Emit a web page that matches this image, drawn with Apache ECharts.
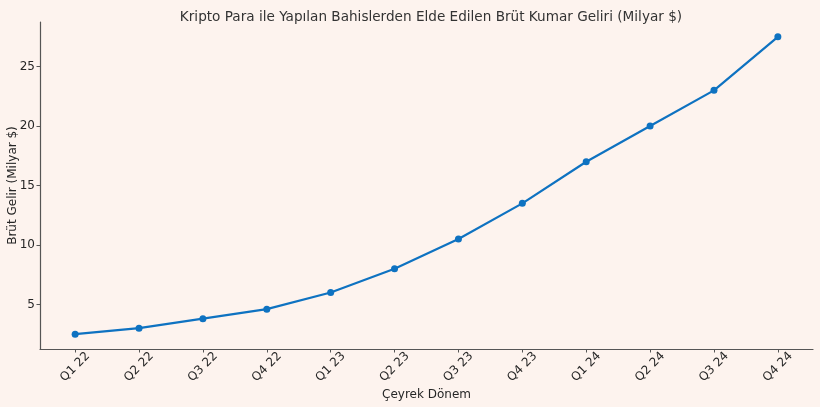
<!DOCTYPE html>
<html><head><meta charset="utf-8">
<script src="https://cdn.jsdelivr.net/npm/echarts@6/dist/echarts.min.js"></script>
<style>html,body{margin:0;padding:0;background:#fdf3ee;}#c{width:820px;height:407px;}</style>
</head><body><div id="c"></div>
<script>
const categories = ["Q1 22","Q2 22","Q3 22","Q4 22","Q1 23","Q2 23","Q3 23","Q4 23","Q1 24","Q2 24","Q3 24","Q4 24"];
const revenue = [2.5, 3.0, 3.8, 4.6, 6.0, 8.0, 10.5, 13.5, 17.0, 20.0, 23.0, 27.5];
const yTicks = [5, 10, 15, 20, 25];
const titleText = "Kripto Para ile Yapılan Bahislerden Elde Edilen Brüt Kumar Geliri (Milyar $)";
const xName = "Çeyrek Dönem";
const yName = "Brüt Gelir (Milyar $)";

const chart = echarts.init(document.getElementById('c'), null, {renderer:'canvas'});
const font = "DejaVu Sans";
const idx = categories.map((_, i) => i);
chart.setOption({
  backgroundColor: '#fdf3ee',
  animation: false,
  textStyle: {fontFamily: font},
  title: {text: titleText, left: 426, top: 5, textAlign: 'center',
    textStyle: {fontFamily: font, fontSize: 13.6, fontWeight: 'normal', color: '#333'}},
  grid: {left: 40, right: 7, top: 22, bottom: 58, containLabel: false, outerBoundsMode: 'none'},
  xAxis: {
    type: 'value', min: -0.55, max: 11.55,
    name: xName, nameLocation: 'middle', nameGap: 40, nameMoveOverlap: false,
    nameTextStyle: {fontFamily: font, fontSize: 12, color: '#262626'},
    axisLine: {show: true, onZero: false, lineStyle: {color: '#555', width: 1.2}},
    axisTick: {show: true, customValues: idx, length: 3.5, lineStyle: {color: '#555'}},
    axisLabel: {customValues: idx, rotate: 45, align: 'center', verticalAlign: 'middle',
      fontFamily: font, fontSize: 12, color: '#262626', margin: 18,
      formatter: v => categories[Math.round(v)]},
    splitLine: {show: false}
  },
  yAxis: {
    type: 'value', min: 1.25, max: 28.75,
    name: yName, nameLocation: 'middle', nameGap: 21, nameMoveOverlap: false,
    nameTextStyle: {fontFamily: font, fontSize: 12, color: '#262626'},
    axisLine: {show: true, onZero: false, lineStyle: {color: '#555', width: 1.2}},
    axisTick: {show: true, customValues: yTicks, length: 3.5, lineStyle: {color: '#555'}},
    axisLabel: {customValues: yTicks, fontFamily: font, fontSize: 12, color: '#262626', margin: 5},
    splitLine: {show: false}
  },
  series: [{
    type: 'line',
    data: revenue.map((v, i) => [i, v]),
    symbol: 'circle', symbolSize: 7,
    lineStyle: {color: '#0e72c1', width: 2.2},
    itemStyle: {color: '#0e72c1'}
  }]
});
</script></body></html>
